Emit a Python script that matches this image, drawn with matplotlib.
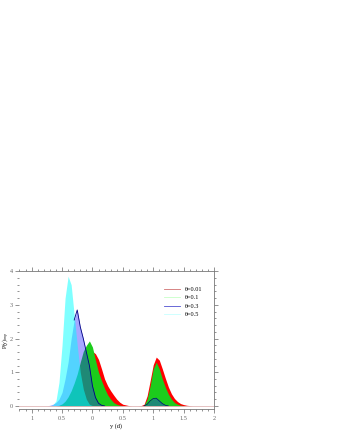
import matplotlib.pyplot as plt
import numpy as np

# bin centres of the histograms (step 0.05)
y_bins = np.round(np.arange(-0.75, 1.651, 0.05), 2)

p_theta_001 = [0, 0, 0, 0, 0.01, 0.03, 0.07, 0.15, 0.28, 0.45, 0.68, 0.95, 1.22,
               1.45, 1.6, 1.62, 1.55, 1.38, 1.1, 0.8, 0.6, 0.45, 0.32, 0.2, 0.11,
               0.05, 0.03, 0.01, 0, 0, 0, 0.01, 0.05, 0.3, 0.75, 1.22, 1.45, 1.36,
               1.1, 0.82, 0.56, 0.36, 0.22, 0.13, 0.07, 0.04, 0.02, 0.01, 0]
p_theta_01 = [0, 0, 0, 0, 0.02, 0.06, 0.14, 0.27, 0.45, 0.68, 0.95, 1.3, 1.62,
              1.8, 1.93, 1.75, 1.36, 1.0, 0.75, 0.52, 0.33, 0.2, 0.1, 0.05, 0.02,
              0.01, 0, 0, 0, 0, 0, 0, 0.02, 0.2, 0.6, 1.1, 1.3, 1.1, 0.8, 0.55,
              0.35, 0.2, 0.1, 0.05, 0.02, 0.01, 0, 0, 0]
p_theta_03 = [0, 0.02, 0.05, 0.1, 0.2, 0.4, 0.8, 1.3, 2.0, 2.55, 2.85, 2.35, 2.0,
              1.6, 1.2, 0.6, 0.25, 0.08, 0.02, 0, 0, 0, 0, 0, 0, 0, 0, 0, 0, 0, 0,
              0, 0, 0.05, 0.15, 0.22, 0.23, 0.15, 0.07, 0.02, 0, 0, 0, 0, 0, 0, 0,
              0, 0]
p_theta_05 = [0, 0, 0.03, 0.15, 0.7, 1.8, 3.2, 3.85, 3.6, 2.7, 1.8, 1.0, 0.5, 0.2,
              0.05, 0.01, 0, 0, 0, 0, 0, 0, 0, 0, 0, 0, 0, 0, 0, 0, 0, 0, 0, 0, 0,
              0, 0, 0, 0, 0, 0, 0, 0, 0, 0, 0, 0, 0, 0]

labels = ["θ=0.01", "θ=0.1", "θ=0.3", "θ=0.5"]
x_ticks = [-1, -0.5, 0, 0.5, 1, 1.5, 2]
x_ticklabels = ["1", "0.5", "0", "0.5", "1", "1.5", "2"]
y_ticks = [0, 1, 2, 3, 4]

plt.rcParams["font.family"] = "Liberation Serif"
plt.rcParams["font.size"] = 4.5
plt.rcParams["mathtext.fontset"] = "stix"

fig = plt.figure(figsize=(3.37, 4.36), dpi=100)
ax = fig.add_axes([0.056, 0.062, 0.579, 0.316])

ax.fill_between(y_bins, p_theta_001, color="#ff0000", lw=0)
ax.fill_between(y_bins, p_theta_01, color="#1ccc1c", lw=0)
ax.fill_between(y_bins, p_theta_03, color="#2525ff", alpha=0.4, lw=0)
ax.fill_between(y_bins, p_theta_05, color="#00ffff", alpha=0.5, lw=0)
# dark outline on the top and falling side of the theta=0.3 peak
ax.plot(y_bins[9:20], p_theta_03[9:20], color="#000080", lw=0.6)
ax.plot(y_bins[32:41], p_theta_03[32:41], color="#000080", lw=0.5)
ax.axhline(0, color="#e0b8b8", lw=0.6)

ax.plot([], [], color="#d07070", lw=0.6, label=labels[0])
ax.plot([], [], color="#c8ffc8", lw=0.6, label=labels[1])
ax.plot([], [], color="#5050d0", lw=0.6, label=labels[2])
ax.plot([], [], color="#c8ffff", lw=0.6, label=labels[3])
ax.legend(loc="upper right", bbox_to_anchor=(0.97, 0.93), frameon=False,
          handlelength=2.5, labelspacing=0.5, fontsize=4.5)

ax.set_xlim(-1.21, 2.0)
ax.set_ylim(-0.09, 4.0)
ax.set_xticks(x_ticks)
ax.set_xticklabels(x_ticklabels)
ax.set_yticks(y_ticks)
ax.set_xticks(np.arange(-1.2, 2.01, 0.1), minor=True)
ax.set_yticks(np.arange(0, 4.01, 0.2), minor=True)
ax.tick_params(which="both", direction="out", top=True, right=True,
               width=0.5, colors="#666666", labelsize=4.5, pad=2)
ax.tick_params(axis="y", pad=1)
ax.tick_params(which="major", length=3)
ax.tick_params(which="minor", length=1.5)
ax.tick_params(labeltop=False, labelright=False)
ax.spines["left"].set_visible(False)
for s in ["top", "bottom", "right"]:
    ax.spines[s].set_linewidth(0.6)
    ax.spines[s].set_color("#777777")

ax.set_xlabel("y (d)", labelpad=2)
ax.set_ylabel("P(y)$_{imp}$", fontsize=4)
ax.yaxis.set_label_coords(-0.04, 0.5)

fig.savefig("out.png", dpi=100)
